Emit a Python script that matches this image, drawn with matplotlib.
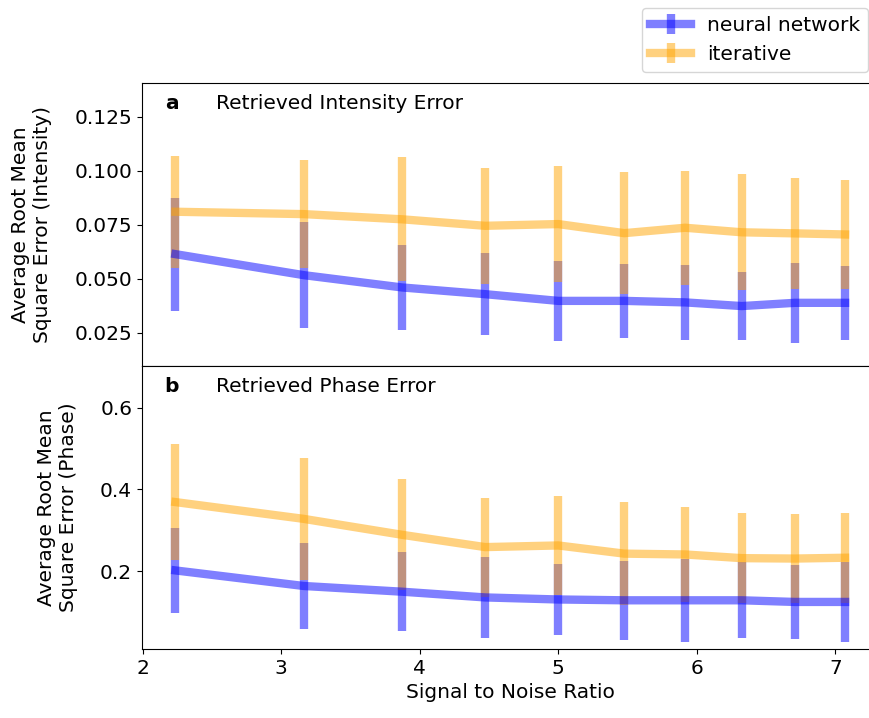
import matplotlib
matplotlib.use("Agg")
import matplotlib.pyplot as plt

plt.rcParams["font.family"] = ["DejaVu Sans"]
plt.rcParams["font.size"] = 14.5

# Signal to noise ratio of each test set
snr = [2.236, 3.162, 3.873, 4.472, 5.0, 5.477, 5.916, 6.325, 6.708, 7.071]

# Intensity retrieval error (mean and spread)
intensity_nn = [0.0614, 0.0517, 0.0460, 0.0429, 0.0398, 0.0398, 0.0391, 0.0374, 0.0389, 0.0389]
intensity_nn_err = [0.0261, 0.0244, 0.0198, 0.0188, 0.0185, 0.0171, 0.0174, 0.0156, 0.0184, 0.0170]
intensity_it = [0.0810, 0.0799, 0.0775, 0.0745, 0.0753, 0.0711, 0.0736, 0.0715, 0.0710, 0.0705]
intensity_it_err = [0.0258, 0.0248, 0.0287, 0.0267, 0.0267, 0.0281, 0.0264, 0.0268, 0.0255, 0.0252]

# Phase retrieval error (mean and spread)
phase_nn = [0.202, 0.164, 0.150, 0.136, 0.131, 0.129, 0.129, 0.129, 0.125, 0.125]
phase_nn_err = [0.1045, 0.1045, 0.0972, 0.0988, 0.0874, 0.0967, 0.1008, 0.0927, 0.0894, 0.0967]
phase_it = [0.369, 0.328, 0.289, 0.259, 0.263, 0.243, 0.241, 0.232, 0.231, 0.233]
phase_it_err = [0.1415, 0.1488, 0.1358, 0.1211, 0.1203, 0.1260, 0.1170, 0.1106, 0.1081, 0.1098]

series_labels = ["neural network", "iterative"]
panel_titles = ["Retrieved Intensity Error", "Retrieved Phase Error"]
panel_letters = ["a", "b"]

fig, (ax1, ax2) = plt.subplots(2, 1, sharex=True, figsize=(8.7, 7.18), dpi=100)
fig.subplots_adjust(left=0.1631, right=1.0099, top=0.8844, bottom=0.0961, hspace=0)

lw = 6
h_nn = ax1.errorbar(snr, intensity_nn, yerr=intensity_nn_err, color="blue", alpha=0.5,
                    linewidth=lw, elinewidth=lw, label=series_labels[0])
h_it = ax1.errorbar(snr, intensity_it, yerr=intensity_it_err, color="orange", alpha=0.5,
                    linewidth=lw, elinewidth=lw, label=series_labels[1])
ax2.errorbar(snr, phase_nn, yerr=phase_nn_err, color="blue", alpha=0.5,
             linewidth=lw, elinewidth=lw)
ax2.errorbar(snr, phase_it, yerr=phase_it_err, color="orange", alpha=0.5,
             linewidth=lw, elinewidth=lw)

ax1.set_ylim(0.0097, 0.1405)
ax1.set_yticks([0.025, 0.050, 0.075, 0.100, 0.125])
ax2.set_ylim(0.010, 0.7015)
ax2.set_yticks([0.2, 0.4, 0.6])
ax2.set_xlim(1.994, 7.313)
ax2.set_xticks([2, 3, 4, 5, 6, 7])
ax1.tick_params(axis="x", bottom=False)

ax1.set_ylabel("Average Root Mean\nSquare Error (Intensity)", labelpad=16)
ax2.set_ylabel("Average Root Mean\nSquare Error (Phase)", labelpad=16)
ax2.set_xlabel("Signal to Noise Ratio")

for ax, letter, title in zip((ax1, ax2), panel_letters, panel_titles):
    ax.text(0.031, 0.928, letter, transform=ax.transAxes, fontweight="bold", va="center")
    ax.text(0.1006, 0.928, title, transform=ax.transAxes, va="center")

fig.legend([h_nn, h_it], series_labels, loc="upper right",
           bbox_to_anchor=(0.9977, 0.989), borderaxespad=0)

fig.savefig("out.png", dpi=100)
